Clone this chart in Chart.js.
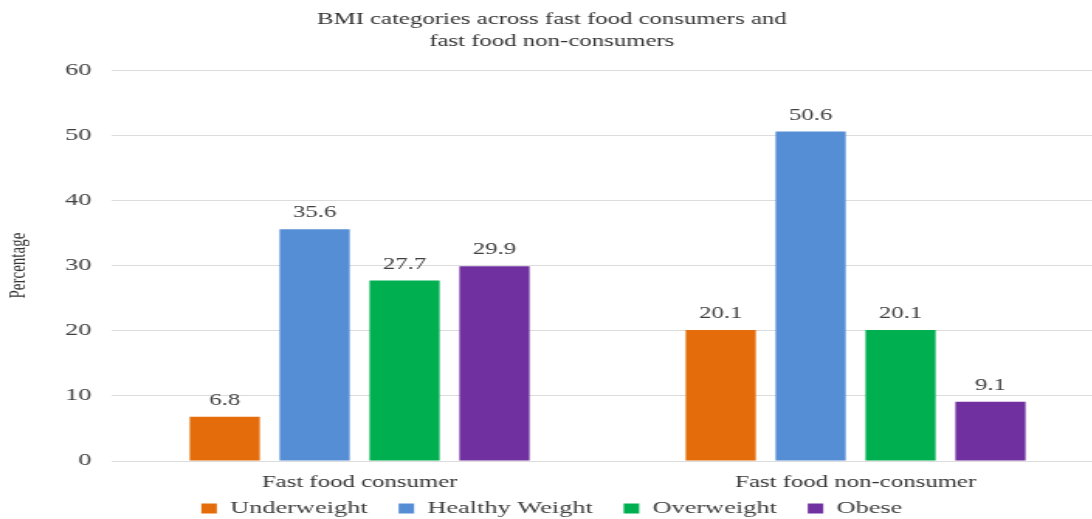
<!DOCTYPE html>
<html>
<head>
<meta charset="utf-8">
<script src="https://cdn.jsdelivr.net/npm/chart.js@4"></script>
<style>
  html, body { margin: 0; padding: 0; background: #fff; overflow: hidden; }
  /* the figure is drawn narrow and widened horizontally */
  #wrap { width: 712px; height: 519px; position: relative; transform: scaleX(1.55); transform-origin: 0 0; }
</style>
</head>
<body>
<div id="wrap"><canvas id="bmiChart"></canvas></div>
<script>
// groups and BMI series
const groups = ["Fast food consumer", "Fast food non-consumer"];
const seriesNames = ["Underweight", "Healthy Weight", "Overweight", "Obese"];
const underweight = [6.8, 20.1];
const healthyWeight = [35.6, 50.6];
const overweight = [27.7, 20.1];
const obese = [29.9, 9.1];
const yTicks = [0, 10, 20, 30, 40, 50, 60];

const COLORS = ["#E46C0A", "#558ED5", "#00B050", "#7030A0"];
const serif = "'Liberation Serif', 'Times New Roman', serif";

// value labels over each bar
const barValues = {
  id: "barValues",
  afterDatasetsDraw(chart) {
    const { ctx } = chart;
    ctx.save();
    ctx.font = "16px " + serif;
    ctx.fillStyle = "#404040";
    ctx.textAlign = "center";
    ctx.textBaseline = "bottom";
    chart.data.datasets.forEach((ds, i) => {
      chart.getDatasetMeta(i).data.forEach((bar, j) => {
        ctx.fillText(ds.data[j].toFixed(1), bar.x, bar.y - 8);
      });
    });
    ctx.restore();
  },
};

const values = [underweight, healthyWeight, overweight, obese];

new Chart(document.getElementById("bmiChart"), {
  type: "bar",
  data: {
    labels: groups,
    datasets: seriesNames.map((name, i) => ({
      label: name,
      data: values[i],
      backgroundColor: COLORS[i],
      categoryPercentage: 0.725,
      barPercentage: 0.78,
    })),
  },
  options: {
    responsive: true,
    maintainAspectRatio: false,
    animation: false,
    layout: { padding: { left: 0, right: 0, top: 0, bottom: -8 } },
    plugins: {
      title: {
        display: true,
        text: ["BMI categories across fast food consumers and", "fast food non-consumers"],
        color: "#333",
        font: { family: serif, size: 16, weight: "normal", lineHeight: 1.35 },
        padding: { top: 9, bottom: 18 },
      },
      legend: {
        position: "bottom",
        labels: {
          color: "#404040",
          font: { family: serif, size: 17 },
          boxWidth: 10,
          boxHeight: 10,
          padding: 20,
        },
      },
      tooltip: { enabled: false },
    },
    scales: {
      x: {
        // thin axis box; mirrored labels with negative padding sit below it, unclipped
        afterFit(scale) {
          scale.height = 19;
        },
        grid: { display: false },
        border: { display: false },
        ticks: {
          color: "#333",
          font: { family: serif, size: 16 },
          mirror: true,
          padding: -31,
        },
      },
      y: {
        min: 0,
        max: 60,
        afterBuildTicks(scale) {
          scale.ticks = yTicks.map((v) => ({ value: v }));
        },
        afterFit(scale) {
          scale.width = 72;
        },
        border: { display: false },
        grid: { color: "#dcdcdc", lineWidth: 1, drawTicks: false },
        ticks: { color: "#404040", font: { family: serif, size: 17 }, padding: 13 },
        title: {
          display: true,
          text: "Percentage",
          color: "#333",
          font: { family: serif, size: 15 },
          padding: { top: 3, bottom: 0 },
        },
      },
    },
  },
  plugins: [barValues],
});
</script>
</body>
</html>
